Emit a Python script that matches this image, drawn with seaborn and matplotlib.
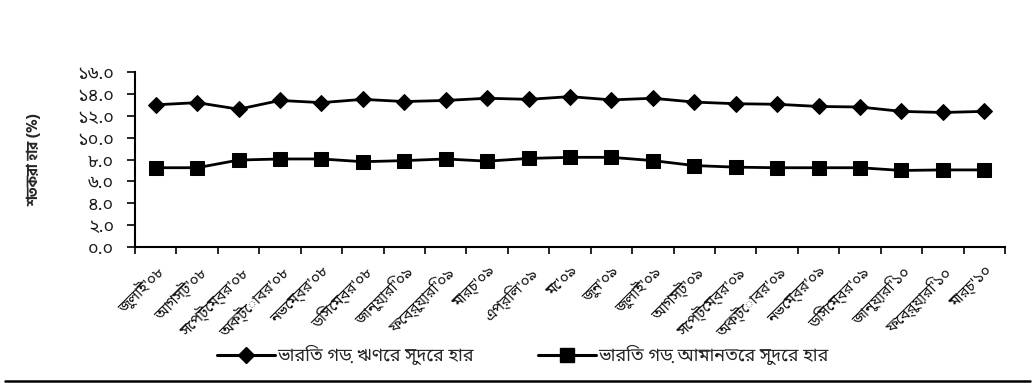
import matplotlib
matplotlib.use("Agg")
import matplotlib.pyplot as plt
from matplotlib.lines import Line2D
import numpy as np
import pandas as pd
import seaborn as sns

months = ["জুলাই'০৮", "আগস্ট'০৮", "সেপ্টেম্বর'০৮", "অক্টোবর'০৮", "নভেম্বর'০৮",
          "ডিসেম্বর'০৮", "জানুয়ারি'০৯", "ফেব্রুয়ারি'০৯", "মার্চ'০৯", "এপ্রিল'০৯",
          "মে'০৯", "জুন'০৯", "জুলাই'০৯", "আগস্ট'০৯", "সেপ্টেম্বর'০৯", "অক্টোবর'০৯",
          "নভেম্বর'০৯", "ডিসেম্বর'০৯", "জানুয়ারি'১০", "ফেব্রুয়ারি'১০", "মার্চ'১০"]
lending_rate = [13.0, 13.2, 12.6, 13.4, 13.2, 13.5, 13.3, 13.4, 13.6, 13.5,
                13.75, 13.45, 13.6, 13.25, 13.1, 13.05, 12.85, 12.8, 12.4, 12.3, 12.4]
deposit_rate = [7.25, 7.25, 7.95, 8.05, 8.05, 7.8, 7.9, 8.05, 7.85, 8.1,
                8.2, 8.2, 7.9, 7.45, 7.3, 7.25, 7.25, 7.25, 7.0, 7.05, 7.05]
y_ticks = [0, 2, 4, 6, 8, 10, 12, 14, 16]
y_tick_labels = ["০.০", "২.০", "৪.০", "৬.০", "৮.০", "১০.০", "১২.০", "১৪.০", "১৬.০"]
y_title = "শতকরা হার (%)"
series_names = ["ভারিত গড় ঋণের সুদের হার", "ভারিত গড় আমানতের সুদের হার"]

sns.set_theme(style="white")
plt.rcParams["font.family"] = ["Noto Sans Bengali", "DejaVu Sans"]

df = pd.DataFrame({"month": months, "lending": lending_rate, "deposit": deposit_rate})

fig = plt.figure(figsize=(10.33, 3.83), dpi=100)
ax = fig.add_axes([0.1307, 0.355, 0.8422, 0.457])

sns.lineplot(data=df, x="month", y="lending", ax=ax, sort=False, color="black",
             linewidth=2.0, marker="D", markersize=8, markeredgecolor="black")
sns.lineplot(data=df, x="month", y="deposit", ax=ax, sort=False, color="black",
             linewidth=2.0, marker="s", markersize=10, markeredgecolor="black")

n = len(months)
ax.set_xlim(-0.5, n - 0.5)
ax.set_ylim(0, 16)
ax.set_yticks(y_ticks)
ax.set_yticklabels(y_tick_labels, fontsize=13, color="#1a1a1a")
ax.set_xticks(range(n))
ax.set_xticklabels(months, rotation=45, ha="right", rotation_mode="anchor",
                   fontsize=11, color="#111111")
ax.set_xticks(np.arange(-0.5, n, 1.0), minor=True)
ax.tick_params(axis="x", which="major", length=0, pad=12)
ax.tick_params(axis="x", which="minor", length=5, width=1.2, color="black", direction="out", bottom=True)
ax.tick_params(axis="y", which="major", length=6, width=1.2, color="black", direction="out", left=True, pad=9)
ax.set_xlabel("")
ax.set_ylabel(y_title, fontsize=10.5, fontweight="bold",
              family=["Hind Siliguri", "Noto Sans Bengali", "DejaVu Sans"])
ax.yaxis.set_label_coords(-0.108, 0.5)

for side in ["top", "right"]:
    ax.spines[side].set_visible(False)
for side in ["left", "bottom"]:
    ax.spines[side].set_color("black")
    ax.spines[side].set_linewidth(1.5)

handles = [Line2D([], [], color="black", linewidth=2.2, marker="D", markersize=8),
           Line2D([], [], color="black", linewidth=2.2, marker="s", markersize=10)]
fig.legend(handles, series_names, loc="center", bbox_to_anchor=(0.506, 0.073), ncol=2,
           frameon=False, fontsize=13, handlelength=3.2, handletextpad=0.1, columnspacing=3.6)

fig.add_artist(Line2D([0.005, 0.997], [0.004, 0.004], color="black", linewidth=1.8,
                      transform=fig.transFigure))

fig.savefig("out.png", dpi=100)
